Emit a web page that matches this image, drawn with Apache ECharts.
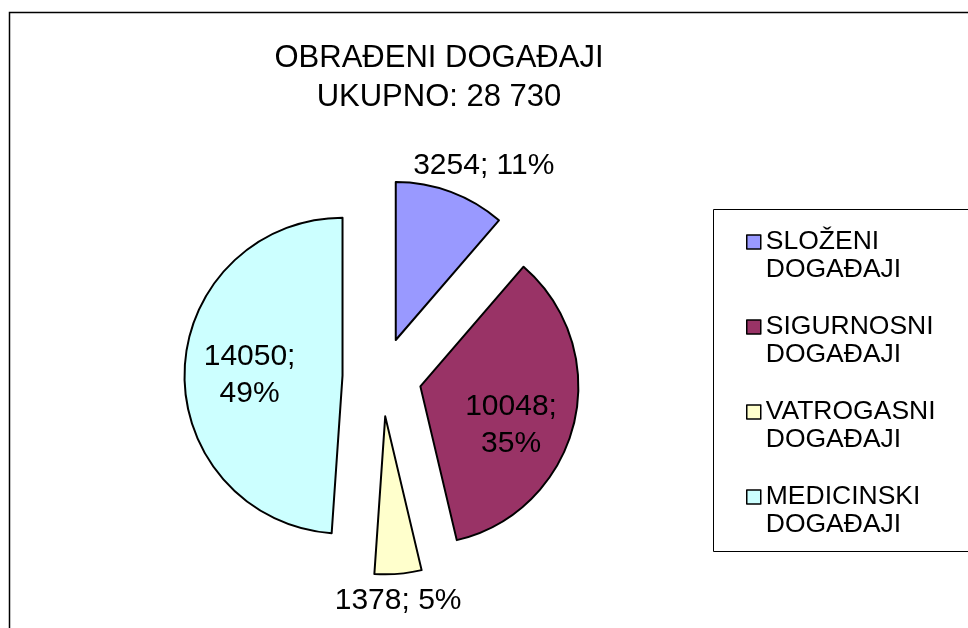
<!DOCTYPE html>
<html>
<head>
<meta charset="utf-8">
<script src="https://cdn.jsdelivr.net/npm/echarts@6/dist/echarts.min.js"></script>
<style>
html,body{margin:0;padding:0;background:#fff;}
#chart{width:968px;height:628px;}
</style>
</head>
<body>
<div id="chart"></div>
<script>
const titleLines = ['OBRAĐENI DOGAĐAJI', 'UKUPNO: 28 730'];
const categories = ['SLOŽENI DOGAĐAJI', 'SIGURNOSNI DOGAĐAJI', 'VATROGASNI DOGAĐAJI', 'MEDICINSKI DOGAĐAJI'];
const values = [3254, 10048, 1378, 14050];
const colors = ['#9999FF', '#993366', '#FFFFCC', '#CCFFFF'];
const labelPlacement = ['outside', 'inside', 'outside', 'inside'];
const labelShift = [[33, -8], [11, 19], [0, 8], [-11, 2]];

const FONT = '"Liberation Sans", Arial, sans-serif';
const chart = echarts.init(document.getElementById('chart'), null, {renderer: 'canvas'});

const data = categories.map((c, i) => ({
  name: c,
  value: values[i],
  selected: true,
  itemStyle: {color: colors[i]},
  label: {
    position: labelPlacement[i],
    formatter: labelPlacement[i] === 'inside'
      ? p => p.value + ';\n' + Math.round(p.percent) + '%'
      : p => p.value + '; ' + Math.round(p.percent) + '%'
  },
  labelLine: {show: false}
}));

chart.setOption({
  animation: false,
  backgroundColor: '#fff',
  title: {
    text: titleLines.join('\n'),
    left: 439,
    top: 39,
    padding: 0,
    textAlign: 'center',
    textStyle: {fontFamily: FONT, fontSize: 31, fontWeight: 'normal', color: '#000', lineHeight: 39}
  },
  legend: {
    orient: 'vertical',
    left: 746,
    top: 200,
    padding: 0,
    itemWidth: 14,
    itemHeight: 14,
    itemGap: 1,
    selectedMode: false,
    icon: 'rect',
    itemStyle: {borderColor: '#000', borderWidth: 1.5},
    formatter: n => '\n' + n.replace(' ', '\n'),
    textStyle: {fontFamily: FONT, fontSize: 26.5, color: '#000', lineHeight: 28},
    data: categories
  },
  graphic: [
    {type: 'rect', silent: true, shape: {x: 9.5, y: 12.5, width: 1000, height: 700},
      style: {fill: 'none', stroke: '#000', lineWidth: 1.5}},
    {type: 'rect', silent: true, shape: {x: 713.5, y: 209.5, width: 300, height: 342},
      style: {fill: 'none', stroke: '#000', lineWidth: 1}}
  ],
  series: [{
    type: 'pie',
    center: [382, 377],
    radius: [0, 158],
    startAngle: 90,
    clockwise: true,
    selectedMode: 'multiple',
    selectedOffset: 39.5,
    avoidLabelOverlap: false,
    emphasis: {disabled: true},
    itemStyle: {borderColor: '#000', borderWidth: 2},
    label: {fontFamily: FONT, fontSize: 30, color: '#000', lineHeight: 37, distanceToLabelLine: 0},
    labelLine: {show: false, length: 0, length2: 0},
    labelLayout: function (p) {
      const s = labelShift[p.dataIndex];
      if (p.dataIndex === 0) return {align: 'center', verticalAlign: 'bottom', dx: s[0], dy: s[1]};
      if (p.dataIndex === 2) return {align: 'center', verticalAlign: 'top', dx: s[0], dy: s[1]};
      return {dx: s[0], dy: s[1]};
    },
    data: data
  }]
});
</script>
</body>
</html>
